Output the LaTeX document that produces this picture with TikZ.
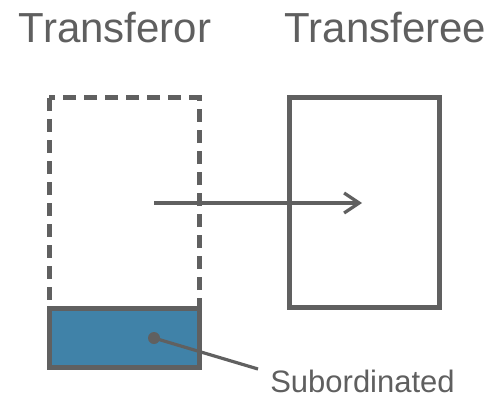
\documentclass[tikz,border=0pt]{standalone}
\usepackage{fontspec}
\setmainfont{Liberation Sans}
\usetikzlibrary{arrows.meta}
\definecolor{ln}{RGB}{96,96,96}
\definecolor{tx}{RGB}{95,95,95}
\definecolor{bl}{RGB}{64,130,168}
\begin{document}
\begin{tikzpicture}[x=1pt,y=-1pt,
  boxline/.style={draw=ln,line width=5pt,outer sep=0pt,inner sep=0pt,anchor=north west},
  dashbox/.style={draw=ln,line width=5pt,dash pattern=on 13pt off 8pt},
  title/.style={text=tx,anchor=base,inner sep=0pt,font=\fontsize{42}{50}\selectfont},
  lab/.style={text=tx,anchor=base,inner sep=0pt,font=\fontsize{31}{37}\selectfont},
  conn/.style={draw=ln,line width=3.2pt}]
\useasboundingbox (0,0) rectangle (494,398);
\node[title] (t1) at (115,43) {Transferor};
\node[title] (t2) at (385.5,43) {Transferee};
\path[dashbox] (49,98) rectangle (199,308);
\node[inner sep=0pt,outer sep=0pt,minimum width=150pt,minimum height=210pt,anchor=north west] (tor) at (49,98) {};
\node[boxline,fill=bl,minimum width=150pt,minimum height=59pt] (sub) at (49,308) {};
\node[boxline,minimum width=150pt,minimum height=209pt] (tee) at (289,98) {};
\coordinate (a1) at (154,203);
\coordinate (a2) at (362,203);
\draw[conn,-{Straight Barb[length=15pt,width=20pt]}] (a1) -- (a2);
\node[lab] (sl) at (362.5,392) {Subordinated};
\coordinate (dot) at (154,338);
\coordinate (le) at (258,369);
\draw[conn] (dot) -- (le);
\fill[ln] (dot) circle (6pt);
\end{tikzpicture}
\end{document}
